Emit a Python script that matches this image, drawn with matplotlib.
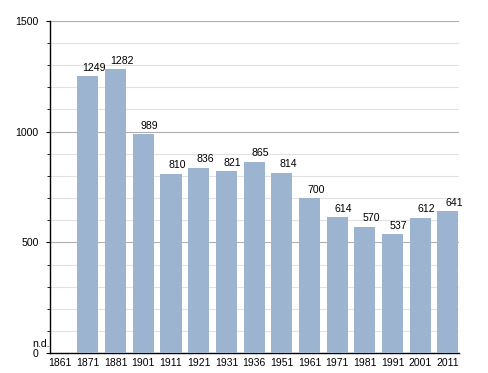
import matplotlib.pyplot as plt
from matplotlib.ticker import MultipleLocator

plt.rcParams['font.family'] = ['Liberation Sans', 'DejaVu Sans']

years = ['1861', '1871', '1881', '1901', '1911', '1921', '1931', '1936',
         '1951', '1961', '1971', '1981', '1991', '2001', '2011']
population = [None, 1249, 1282, 989, 810, 836, 821, 865,
              814, 700, 614, 570, 537, 612, 641]

fig = plt.figure(figsize=(4.88, 3.73), dpi=100)
ax = fig.add_axes([50 / 488, (373 - 353.3) / 373, 409 / 488, 332.6 / 373])

x = list(range(len(years)))
heights = [v if v is not None else 0 for v in population]
ax.bar(x, heights, width=0.76, color='#9cb4cf', zorder=3)

# value labels sit a little to the right of each bar's centre
for i, v in enumerate(population):
    if v is not None:
        ax.annotate(str(v), xy=(i, v), xytext=(4.5, 2.5), textcoords='offset points',
                    ha='center', va='bottom', fontsize=7.6, zorder=4)

# missing value note, placed just left of the axis above the 0 label
ax.annotate('n.d.', xy=(0, 18), xycoords=('axes fraction', 'data'),
            ha='right', va='bottom', fontsize=7.6)

ax.set_xlim(-0.37, len(years) - 0.6)
ax.set_ylim(0, 1500)
ax.set_xticks(x)
ax.set_xticklabels(years, fontsize=7.5)
ax.tick_params(axis='x', length=0, pad=3.5)

ax.yaxis.set_major_locator(MultipleLocator(500))
ax.yaxis.set_minor_locator(MultipleLocator(100))
ax.tick_params(axis='y', which='major', length=3.2, labelsize=7.6, direction='out', pad=5)
ax.tick_params(axis='y', which='minor', length=2, direction='out')
ax.grid(axis='y', which='major', color='#b0b0b0', linewidth=0.8, zorder=0)
ax.grid(axis='y', which='minor', color='#e2e2e2', linewidth=0.8, zorder=0)

for side in ['top', 'right']:
    ax.spines[side].set_visible(False)
ax.spines['left'].set_linewidth(1)
ax.spines['bottom'].set_linewidth(1)

fig.savefig('out.png', dpi=100)
